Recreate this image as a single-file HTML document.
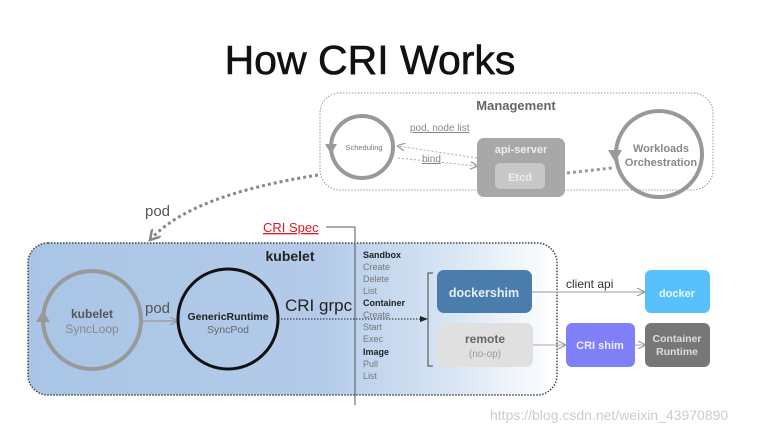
<!DOCTYPE html>
<html><head><meta charset="utf-8"><style>
html,body{margin:0;padding:0;background:#fff;}
svg{display:block;font-family:"Liberation Sans",sans-serif;}
</style></head><body>
<svg width="770" height="435" viewBox="0 0 770 435">
<defs>
<linearGradient id="kb" x1="0" x2="1" y1="0" y2="0">
<stop offset="0" stop-color="#a9c5e6"/><stop offset="0.55" stop-color="#b3cbe8"/><stop offset="0.8" stop-color="#d8e5f4"/><stop offset="1" stop-color="#ffffff"/>
</linearGradient>
<marker id="ag" markerWidth="8" markerHeight="8" refX="7" refY="4" orient="auto" markerUnits="userSpaceOnUse"><path d="M0,0 L8,4 L0,8" fill="none" stroke="#999" stroke-width="1.2"/></marker>
<marker id="ak" markerWidth="8" markerHeight="8" refX="7" refY="4" orient="auto" markerUnits="userSpaceOnUse"><path d="M0,1 L8,4 L0,7z" fill="#222"/></marker>
<marker id="ap" markerWidth="12" markerHeight="12" refX="10" refY="6" orient="auto" markerUnits="userSpaceOnUse"><path d="M0,0 L10,6 L0,12" fill="none" stroke="#888" stroke-width="2.5"/></marker>
</defs>
<text x="370" y="74" font-size="41" text-anchor="middle" fill="#111" stroke="#111" stroke-width="0.6">How CRI Works</text>

<!-- Management -->
<rect x="320" y="93" width="393" height="97" rx="20" fill="#fff" stroke="#999" stroke-dasharray="1.5,1.5"/>
<text x="516" y="110" font-size="13" font-weight="bold" fill="#666" text-anchor="middle">Management</text>
<circle cx="362" cy="147" r="31" fill="none" stroke="#999" stroke-width="4"/>
<path d="M325,144 L337,144 L331,154z" fill="#999"/>
<text x="364" y="150" font-size="7.5" fill="#777" text-anchor="middle">Scheduling</text>
<text x="410" y="131" font-size="10" fill="#888" text-decoration="underline">pod, node list</text>
<line x1="477" y1="158" x2="398" y2="146" stroke="#aaa" stroke-dasharray="2,2" marker-end="url(#ag)"/>
<text x="422" y="162" font-size="10" fill="#888" text-decoration="underline">bind</text>
<line x1="398" y1="158" x2="477" y2="166" stroke="#aaa" stroke-dasharray="2,2" marker-end="url(#ag)"/>
<rect x="477" y="138" width="88" height="59" rx="7" fill="#a8a8a8"/>
<text x="521" y="153" font-size="11" font-weight="bold" fill="#eee" text-anchor="middle">api-server</text>
<rect x="495" y="163" width="50" height="26" rx="5" fill="#c8c8c8"/>
<text x="520" y="181" font-size="11" font-weight="bold" fill="#eee" text-anchor="middle">Etcd</text>
<line x1="567" y1="173" x2="612" y2="168" stroke="#999" stroke-width="3" stroke-dasharray="3,3"/>
<circle cx="659" cy="154" r="43" fill="none" stroke="#999" stroke-width="4"/>
<path d="M608,150 L622,150 L615,162z" fill="#999"/>
<text x="661" y="152" font-size="11" font-weight="bold" fill="#888" text-anchor="middle">Workloads</text>
<text x="661" y="166" font-size="11" font-weight="bold" fill="#888" text-anchor="middle">Orchestration</text>

<!-- pod curve -->
<path d="M318,175 Q190,195 150,240" fill="none" stroke="#888" stroke-width="3" stroke-dasharray="3,3" marker-end="url(#ap)"/>
<text x="145" y="216" font-size="15" fill="#555">pod</text>

<!-- kubelet -->
<rect x="28" y="243" width="529" height="152" rx="20" fill="url(#kb)" stroke="#444" stroke-dasharray="1.5,1.5" stroke-width="1.5"/>
<text x="290" y="261" font-size="14" font-weight="bold" fill="#222" text-anchor="middle">kubelet</text>
<circle cx="92" cy="320" r="49" fill="none" stroke="#999" stroke-width="4"/>
<path d="M36,322 L50,322 L43,310z" fill="#999"/>
<text x="92" y="318" font-size="12" font-weight="bold" fill="#555" text-anchor="middle">kubelet</text>
<text x="92" y="333" font-size="12" fill="#888" text-anchor="middle">SyncLoop</text>
<text x="145" y="313" font-size="15" fill="#555">pod</text>
<line x1="142" y1="321" x2="177" y2="321" stroke="#999" stroke-width="1.2" marker-end="url(#ag)"/>
<circle cx="228" cy="319" r="50" fill="none" stroke="#111" stroke-width="3"/>
<text x="228" y="320" font-size="10.5" font-weight="bold" fill="#222" text-anchor="middle">GenericRuntime</text>
<text x="228" y="333" font-size="10.5" fill="#666" text-anchor="middle">SyncPod</text>
<text x="285" y="311" font-size="17" fill="#222">CRI grpc</text>
<line x1="278" y1="319" x2="427" y2="319" stroke="#222" stroke-dasharray="1.5,1.5" marker-end="url(#ak)"/>

<line x1="355" y1="227" x2="355" y2="405" stroke="#555" stroke-width="1"/>
<line x1="326" y1="227" x2="355" y2="227" stroke="#555" stroke-width="1"/>
<text x="263" y="232" font-size="13" fill="#e8141e" text-decoration="underline">CRI Spec</text>
<g font-size="9" fill="#777">
<text x="363" y="258" font-weight="bold" fill="#222">Sandbox</text>
<text x="363" y="270">Create</text>
<text x="363" y="282">Delete</text>
<text x="363" y="294">List</text>
<text x="363" y="306" font-weight="bold" fill="#222">Container</text>
<text x="363" y="318">Create</text>
<text x="363" y="330">Start</text>
<text x="363" y="342">Exec</text>
<text x="363" y="355" font-weight="bold" fill="#222">Image</text>
<text x="363" y="367">Pull</text>
<text x="363" y="379">List</text>
</g>
<path d="M433,273 L428,273 L428,366 L433,366" fill="none" stroke="#444"/>
<rect x="437" y="270" width="95" height="43" rx="7" fill="#4a7dab"/>
<text x="484" y="297" font-size="12.5" font-weight="bold" fill="#e8eef5" text-anchor="middle">dockershim</text>
<rect x="437" y="323" width="96" height="44" rx="7" fill="#e0e0e0"/>
<text x="485" y="343" font-size="12" font-weight="bold" fill="#666" text-anchor="middle">remote</text>
<text x="485" y="357" font-size="10" fill="#999" text-anchor="middle">(no-op)</text>
<line x1="532" y1="292" x2="644" y2="292" stroke="#999" marker-end="url(#ag)"/>
<text x="566" y="288" font-size="12" fill="#333">client api</text>
<rect x="645" y="270" width="65" height="43" rx="6" fill="#58c0fb"/>
<text x="677" y="297" font-size="11" font-weight="bold" fill="#eaf6ff" text-anchor="middle">docker</text>
<line x1="533" y1="345" x2="565" y2="345" stroke="#aaa" marker-end="url(#ag)"/>
<rect x="566" y="323" width="69" height="44" rx="6" fill="#7f7ff7"/>
<text x="600" y="349" font-size="11" font-weight="bold" fill="#eef" text-anchor="middle">CRI shim</text>
<line x1="635" y1="345" x2="645" y2="345" stroke="#aaa" marker-end="url(#ag)"/>
<rect x="645" y="323" width="65" height="44" rx="6" fill="#777"/>
<text x="677" y="342" font-size="10.5" font-weight="bold" fill="#ddd" text-anchor="middle">Container</text>
<text x="677" y="355" font-size="10.5" font-weight="bold" fill="#ddd" text-anchor="middle">Runtime</text>
<text x="490" y="420" font-size="14" fill="#ccc">https://blog.csdn.net/weixin_43970890</text>
</svg>
</body></html>
